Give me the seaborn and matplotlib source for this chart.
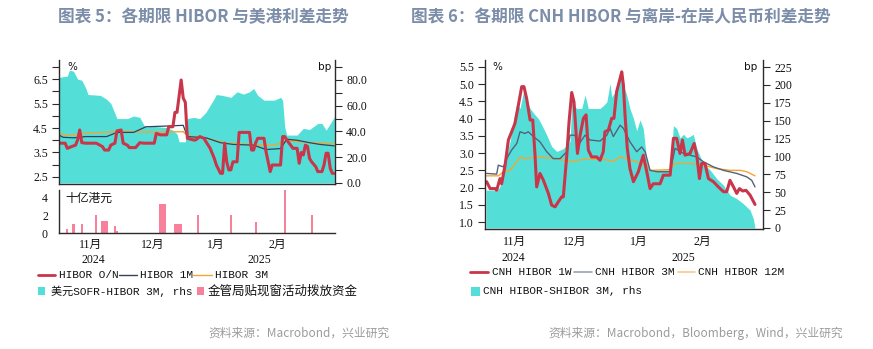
import matplotlib
matplotlib.use("Agg")
import matplotlib.pyplot as plt
import matplotlib.transforms as mtransforms
from matplotlib.lines import Line2D
from matplotlib.patches import Rectangle
import numpy as np
import seaborn as sns

# ---------------- Left chart data (x = days since 2024-11-01) ----------------
spread_day = [0, 4, 5, 7, 9, 11, 13, 14, 20, 23, 25, 28, 33, 36, 39, 41, 42, 46, 52, 55,
              57, 58, 61, 62, 65, 68, 71, 75, 76, 79, 83, 86, 89, 92, 94, 96, 99, 104, 107, 108,
              109, 110, 115, 118, 121, 125, 127, 129, 131, 133]
spread_bp = [82, 83, 87.6, 86.8, 80.6, 79.8, 73.4, 68.7, 68, 65, 61.8, 50, 50, 52, 51, 45, 43.6, 44, 43, 41,
             38, 32, 32, 50, 51, 50, 55, 65.6, 68.7, 68, 66.5, 70.8, 69, 70.8, 73.4, 68, 64.3, 64.3, 66.5, 64.3,
             43.6, 37.2, 37.2, 42.4, 41.5, 46.2, 46.2, 41, 46, 51.4]

on_day = [0, 3, 4, 6, 8, 9, 10, 11, 13, 18, 21, 22, 24, 25, 27, 28, 30, 31, 33, 34,
          37, 39, 41, 46, 47, 49, 52, 53, 55, 56, 57, 59, 60, 61, 62, 65, 66, 68, 70, 71,
          73, 75, 76, 78, 79, 80, 81, 82, 83, 84, 86, 87, 92, 93, 94, 95, 96, 99, 100, 102,
          103, 107, 108, 109, 110, 113, 115, 116, 117, 118, 119, 120, 121, 122, 124, 125, 127, 128, 129, 130,
          131, 132, 133]
on_val = [3.88, 3.88, 3.67, 3.74, 3.80, 4.01, 4.42, 3.90, 3.88, 3.88, 3.74, 3.60, 3.60, 3.80, 3.88, 4.38, 4.42, 3.88, 3.80, 3.70,
          3.70, 3.90, 3.88, 3.88, 4.28, 4.22, 4.22, 4.55, 4.55, 5.14, 5.14, 6.46, 5.72, 5.55, 4.08, 4.01, 4.01, 4.15, 4.08, 3.94,
          3.67, 3.26, 2.99, 2.65, 2.65, 3.88, 3.12, 2.79, 2.79, 3.12, 3.12, 4.32, 4.32, 3.60, 3.60, 3.90, 4.08, 4.08, 3.53, 2.72,
          2.99, 2.99, 4.15, 4.15, 4.01, 3.67, 3.67, 3.06, 3.50, 3.40, 3.80, 3.75, 3.26, 3.12, 2.92, 2.72, 2.72, 2.99, 3.47, 3.47,
          2.85, 2.65, 2.65]

m1_day = [0, 2, 7, 13, 23, 28, 36, 42, 52, 60, 62, 71, 78, 84, 94, 100, 107, 110, 115, 121, 126, 133]
m1_val = [4.21, 4.12, 4.10, 4.15, 4.15, 4.32, 4.32, 4.55, 4.58, 4.61, 4.15, 4.10, 3.90, 3.83, 3.80, 3.62, 3.66,
          4.04, 4.00, 3.90, 3.83, 3.77]

m3_day = [0, 4, 13, 30, 46, 60, 62, 71, 81, 94, 104, 110, 123, 133]
m3_val = [4.28, 4.20, 4.28, 4.36, 4.33, 4.35, 4.18, 4.08, 3.88, 3.82, 3.80, 3.97, 3.90, 3.85]

bar_day = [4, 7, 11, 15, 18, 21, 22, 23, 27, 28, 49, 50, 51, 56, 57, 58, 59, 67, 83, 95, 109, 122]
bar_val = [0.4, 1.05, 0.95, 0.05, 2.0, 1.3, 1.3, 1.3, 0.75, 0.2, 3.25, 3.25, 3.25, 0.95, 0.95, 0.95, 0.95,
           2.0, 2.0, 1.25, 4.8, 2.0]

left_month_labels = ["11月", "12月", "1月", "2月"]
left_year_labels = ["2024", "2025"]

# ---------------- Right chart data (x = time index in days) ----------------
cs_day = [0, 4.4, 5.2, 6.8, 8.5, 10.1, 11.7, 13.3, 15.0, 16.6, 18.2, 19.8, 21.5, 23.9, 25.5, 27.2, 29.6, 32.0, 34.5, 37.7,
          41.0, 41.8, 44.2, 46.7, 48.3, 49.9, 52.4, 55.6, 57.2, 58.9, 60.5, 61.3, 62.9, 64.6, 66.2, 67.0, 68.6, 70.2, 71.9, 73.5,
          75.1, 76.7, 78.4, 80.0, 89.8, 91.4, 93.0, 94.6, 96.3, 97.9, 99.5, 101.1, 102.8, 104.4, 106.0, 109.3, 112.5, 115.8,
          119.0, 122.3, 125.5, 128.8, 130.4, 131.2]
cs_bp = [53, 53, 51, 58, 88, 102, 121, 149, 174, 167, 190, 179, 167, 158, 153, 144, 130, 114, 107, 111,
         121, 176, 167, 167, 186, 167, 167, 167, 171, 176, 202, 183, 190, 209, 218, 200, 186, 167, 153, 136,
         151, 139, 93, 81, 81, 143, 139, 126, 131, 126, 128, 131, 111, 100, 90, 81, 69, 60,
         46, 41, 34, 25, 13, 0]

w1_day = [0.3, 2.0, 4.4, 5.2, 6.8, 7.6, 9.3, 10.9, 12.5, 14.1, 15.8, 17.4, 18.5, 19.8, 21.5, 22.8, 23.9, 24.7, 26.3, 28.0,
          30.4, 32.0, 33.7, 35.3, 36.9, 37.7, 39.4, 40.5, 41.8, 42.9, 44.6, 45.9, 47.5, 48.8, 49.9, 51.5, 54.0, 55.6, 57.2, 58.0,
          59.7, 61.3, 62.4, 63.7, 65.4, 66.2, 67.0, 67.8, 68.9, 70.2, 71.9, 74.3, 76.7, 78.4, 80.0, 81.6, 84.9, 86.5, 89.8, 91.4,
          93.0, 94.6, 95.8, 97.1, 99.5, 101.5, 102.8, 104.1, 105.2, 106.8, 108.5, 110.9, 113.3, 115.8, 117.4, 119.0, 120.7, 122.3,
          123.6, 125.2, 126.8, 128.8, 131.2]
w1_val = [2.17, 1.97, 1.97, 1.92, 2.26, 2.11, 2.65, 3.38, 3.62, 3.86, 4.40, 4.93, 4.93, 4.59, 3.96, 3.96, 2.94, 2.02, 2.41, 2.21,
          1.83, 1.49, 1.44, 1.59, 1.73, 1.73, 2.94, 3.91, 4.76, 4.49, 2.99, 3.52, 4.01, 4.11, 3.09, 2.89, 2.89, 2.79, 3.04, 3.62,
          3.67, 4.01, 4.01, 4.78, 5.17, 5.36, 4.98, 4.11, 3.14, 2.55, 2.17, 2.46, 2.94, 2.46, 1.97, 2.11, 2.11, 2.36, 2.36, 3.43,
          3.43, 2.99, 3.38, 2.94, 2.99, 3.28, 2.94, 2.26, 2.70, 2.70, 2.26, 2.17, 2.02, 1.88, 1.88, 2.21, 2.02, 1.83,
          1.97, 1.90, 1.92, 1.78, 1.51]

c3_day = [0.3, 5.2, 6.0, 8.5, 10.1, 12.5, 15.0, 16.6, 19.0, 20.6, 23.1, 26.3, 29.6, 32.8, 36.1, 39.4, 41.0, 43.4, 45.0, 48.3,
          50.7, 55.6, 58.9, 60.5, 62.1, 65.4, 67.0, 70.2, 73.5, 75.9, 77.6, 80.0, 83.3, 89.8, 92.2, 96.3, 99.5, 102.8, 106.0,
          110.9, 115.8, 122.3, 127.2, 129.6, 131.2]
c3_val = [2.41, 2.39, 2.65, 2.60, 2.84, 3.09, 3.28, 3.62, 3.57, 3.62, 3.48, 3.33, 3.04, 2.84, 2.84, 3.04, 3.52, 3.52, 3.23, 3.52,
          3.38, 3.35, 3.52, 3.72, 3.48, 3.81, 3.72, 3.33, 3.04, 3.18, 3.04, 2.50, 2.46, 2.46, 3.14, 2.99, 2.94, 2.89, 2.75,
          2.60, 2.50, 2.41, 2.31, 2.21, 2.02]

c12_day = [0.3, 6.0, 8.5, 11.7, 15.0, 16.6, 19.0, 24.7, 34.5, 41.0, 47.5, 57.2, 62.1, 65.4, 73.5, 78.4, 80.0, 89.8, 92.2,
           99.5, 106.0, 112.5, 119.0, 123.9, 127.2, 131.2]
c12_val = [2.34, 2.34, 2.46, 2.50, 2.75, 2.89, 2.84, 2.89, 2.84, 2.75, 2.82, 2.82, 2.76, 2.89, 2.75, 2.65, 2.50, 2.52, 2.70,
           2.70, 2.65, 2.55, 2.50, 2.50, 2.46, 2.34]

right_month_labels = ["11月", "12月", "1月", "2月"]
right_year_labels = ["2024", "2025"]

# ---------------- Style ----------------
sns.set_theme(style="white")
plt.rcParams["font.family"] = ["Liberation Serif", "Noto Sans CJK SC", "DejaVu Sans"]
plt.rcParams["axes.unicode_minus"] = False

W, H = 873, 349
fig = plt.figure(figsize=(W / 100, H / 100), dpi=100)
fig.patch.set_facecolor("white")


def box(l, t, r, b):
    return [l / W, 1 - b / H, (r - l) / W, (b - t) / H]


SPINE = "#2b2b2b"
TEAL = "#53DFD7"
RED = "#C9364A"
NAVY = "#33415E"
ORANGE = "#F5A531"
PINK = "#F7819A"
GREY = "#55617A"
TITLE_C = "#7B8DA8"
CJK = ["Noto Sans CJK SC", "DejaVu Sans"]
MONO = ["Liberation Mono", "Noto Sans CJK SC"]
SERIF = ["Liberation Serif", "Noto Sans CJK SC"]


def style_axis(ax, sides):
    for s in ["left", "right", "top", "bottom"]:
        ax.spines[s].set_visible(s in sides)
        ax.spines[s].set_color(SPINE)
        ax.spines[s].set_linewidth(1.0)
    ax.tick_params(direction="out", length=5, width=0.8, color=SPINE, labelsize=8.5, pad=3,
                   labelcolor="#111111")
    ax.grid(False)
    ax.set_xlabel("")
    ax.set_ylabel("")


def month_texts(ax, centers, labels, ypx, size=8.5):
    tr = mtransforms.blended_transform_factory(ax.transData, fig.transFigure)
    for c, lab in zip(centers, labels):
        ax.text(c, 1 - ypx / H, lab, transform=tr, ha="center", va="center", fontsize=size,
                family=SERIF, color="#111111", clip_on=False)


def leg_line(x0, x1, y, color, lw):
    fig.add_artist(Line2D([x0 / W, x1 / W], [1 - y / H, 1 - y / H], color=color, lw=lw,
                          transform=fig.transFigure))


def leg_box(x0, y0, w, h, color):
    fig.add_artist(Rectangle((x0 / W, 1 - (y0 + h) / H), w / W, h / H, color=color, lw=0,
                             transform=fig.transFigure))


def leg_text(x, y, s, size=8, family=MONO):
    fig.text(x / W, 1 - y / H, s, fontsize=size, family=family, va="center", ha="left", color="#111111")


# ---------------- Titles ----------------
fig.text(58 / W, 1 - 17 / H, "图表 5：各期限 HIBOR 与美港利差走势", fontsize=12, fontweight="bold",
         color=TITLE_C, family=CJK, va="center", ha="left")
fig.text(411 / W, 1 - 17 / H, "图表 6：各期限 CNH HIBOR 与离岸-在岸人民币利差走势", fontsize=12, fontweight="bold",
         color=TITLE_C, family=CJK, va="center", ha="left")

# ---------------- Left chart, top panel ----------------
ax1 = fig.add_axes(box(59, 60, 335, 184))
ax1r = ax1.twinx()
ax1r.fill_between(spread_day, spread_bp, 0, color=TEAL, lw=0)
sns.lineplot(x=m3_day, y=m3_val, ax=ax1, color=ORANGE, lw=1.0)
sns.lineplot(x=m1_day, y=m1_val, ax=ax1, color=NAVY, lw=0.9)
sns.lineplot(x=on_day, y=on_val, ax=ax1, color=RED, lw=2.2)
ax1.set_zorder(ax1r.get_zorder() + 1)
ax1.patch.set_visible(False)
ax1.set_xlim(0, 133.3)
ax1.set_ylim(2.214, 7.276)
yt = np.arange(2.5, 7.01, 0.5)
ax1.set_yticks(yt)
ax1.set_yticklabels([f"{v:.1f}" if abs((v - 2.5) % 1) < 1e-6 else "" for v in yt])
ax1.set_xticks([])
ax1r.set_ylim(-0.8, 95.5)
rt = np.arange(0, 91, 10)
ax1r.set_yticks(rt)
ax1r.set_yticklabels([f"{v:.1f}" if v % 20 == 0 else "" for v in rt])
style_axis(ax1, ["left", "bottom"])
style_axis(ax1r, ["right"])
ax1r.set_xticks([])
ax1.text(67 / W, 1 - 67 / H, "%", transform=fig.transFigure, fontsize=7.5, family=["DejaVu Sans"],
         va="center", ha="left", color="#111111")
ax1.text(331 / W, 1 - 67 / H, "bp", transform=fig.transFigure, fontsize=7.5, family=["DejaVu Sans"],
         va="center", ha="right", color="#111111")

# ---------------- Left chart, bottom panel ----------------
ax2 = fig.add_axes(box(59, 190, 335, 233))
sns.barplot(x=bar_day, y=bar_val, native_scale=True, width=1.0, color=PINK, saturation=1,
            errorbar=None, ax=ax2, linewidth=0)
ax2.set_xlim(0, 133.3)
ax2.set_ylim(0, 4.8)
ax2.set_yticks([0, 2, 4])
ax2.set_yticklabels(["0", "2", "4"])
ax2.set_xticks([0, 30, 61, 92, 120])
ax2.set_xticklabels([])
style_axis(ax2, ["left", "bottom"])
ax2.xaxis.get_major_ticks()[2].tick1line.set_markersize(8)
fig.text(65 / W, 1 - 198 / H, "十亿港元", fontsize=8.5, family=CJK, va="center", ha="left", color="#111111")
month_texts(ax2, [15, 45.4, 75.8, 105.3], left_month_labels, 245)
month_texts(ax2, [16.4, 96.6], left_year_labels, 260)

# left legend
leg_line(38, 55, 275, RED, 2.0)
leg_text(59, 275, "HIBOR O/N")
leg_line(119, 137, 275, NAVY, 1.0)
leg_text(140, 275, "HIBOR 1M")
leg_line(193, 212, 275, ORANGE, 1.0)
leg_text(215, 275, "HIBOR 3M")
leg_box(38, 287, 7, 8, TEAL)
leg_text(51, 291, "美元SOFR-HIBOR 3M, rhs")
leg_box(197, 287, 7, 8, PINK)
leg_text(208, 291, "金管局贴现窗活动拨放资金", size=9, family=CJK)

# ---------------- Right chart ----------------
ax3 = fig.add_axes(box(485, 60, 763, 229))
ax3r = ax3.twinx()
ax3r.fill_between(cs_day, cs_bp, 0, color=TEAL, lw=0)
sns.lineplot(x=c12_day, y=c12_val, ax=ax3, color=ORANGE, lw=1.0)
sns.lineplot(x=c3_day, y=c3_val, ax=ax3, color=GREY, lw=1.0)
sns.lineplot(x=w1_day, y=w1_val, ax=ax3, color=RED, lw=2.2)
ax3.set_zorder(ax3r.get_zorder() + 1)
ax3.patch.set_visible(False)
ax3.set_xlim(-0.5, 135.1)
ax3.set_ylim(0.797, 5.703)
yt3 = np.arange(1.0, 5.51, 0.5)
ax3.set_yticks(yt3)
ax3.set_yticklabels([f"{v:.1f}" for v in yt3])
ax3.set_xticks([0, 28.8, 58.5, 91.2, 120])
ax3.set_xticklabels([])
ax3r.set_ylim(-1.4, 234.8)
rt3 = np.arange(0, 226, 25)
ax3r.set_yticks(rt3)
ax3r.set_yticklabels([f"{v:d}" for v in rt3])
style_axis(ax3, ["left", "bottom"])
style_axis(ax3r, ["right"])
ax3.xaxis.get_major_ticks()[2].tick1line.set_markersize(8)
ax3.text(492 / W, 1 - 67 / H, "%", transform=fig.transFigure, fontsize=7.5, family=["DejaVu Sans"],
         va="center", ha="left", color="#111111")
ax3.text(757 / W, 1 - 67 / H, "bp", transform=fig.transFigure, fontsize=7.5, family=["DejaVu Sans"],
         va="center", ha="right", color="#111111")
month_texts(ax3, [14.1, 43.4, 74.6, 105.4], right_month_labels, 242)
month_texts(ax3, [13.2, 96.1], right_year_labels, 258)

# right legend
leg_line(470, 488, 272, RED, 2.0)
leg_text(492, 272, "CNH HIBOR 1W")
leg_line(574, 592, 272, "#9AA2B4", 1.2)
leg_text(595, 272, "CNH HIBOR 3M")
leg_line(678, 695, 272, "#F8C98A", 1.2)
leg_text(698, 272, "CNH HIBOR 12M")
leg_box(471, 287, 9, 9, TEAL)
leg_text(483, 291, "CNH HIBOR-SHIBOR 3M, rhs")

# ---------------- Sources ----------------
fig.text(390 / W, 1 - 333 / H, "资料来源：Macrobond，兴业研究", fontsize=8.5, color="#9B9B9B",
         family=CJK, ha="right", va="center")
fig.text(843 / W, 1 - 333 / H, "资料来源：Macrobond，Bloomberg，Wind，兴业研究", fontsize=8.5, color="#9B9B9B",
         family=CJK, ha="right", va="center")

fig.savefig("out.png", dpi=100, facecolor="white")
